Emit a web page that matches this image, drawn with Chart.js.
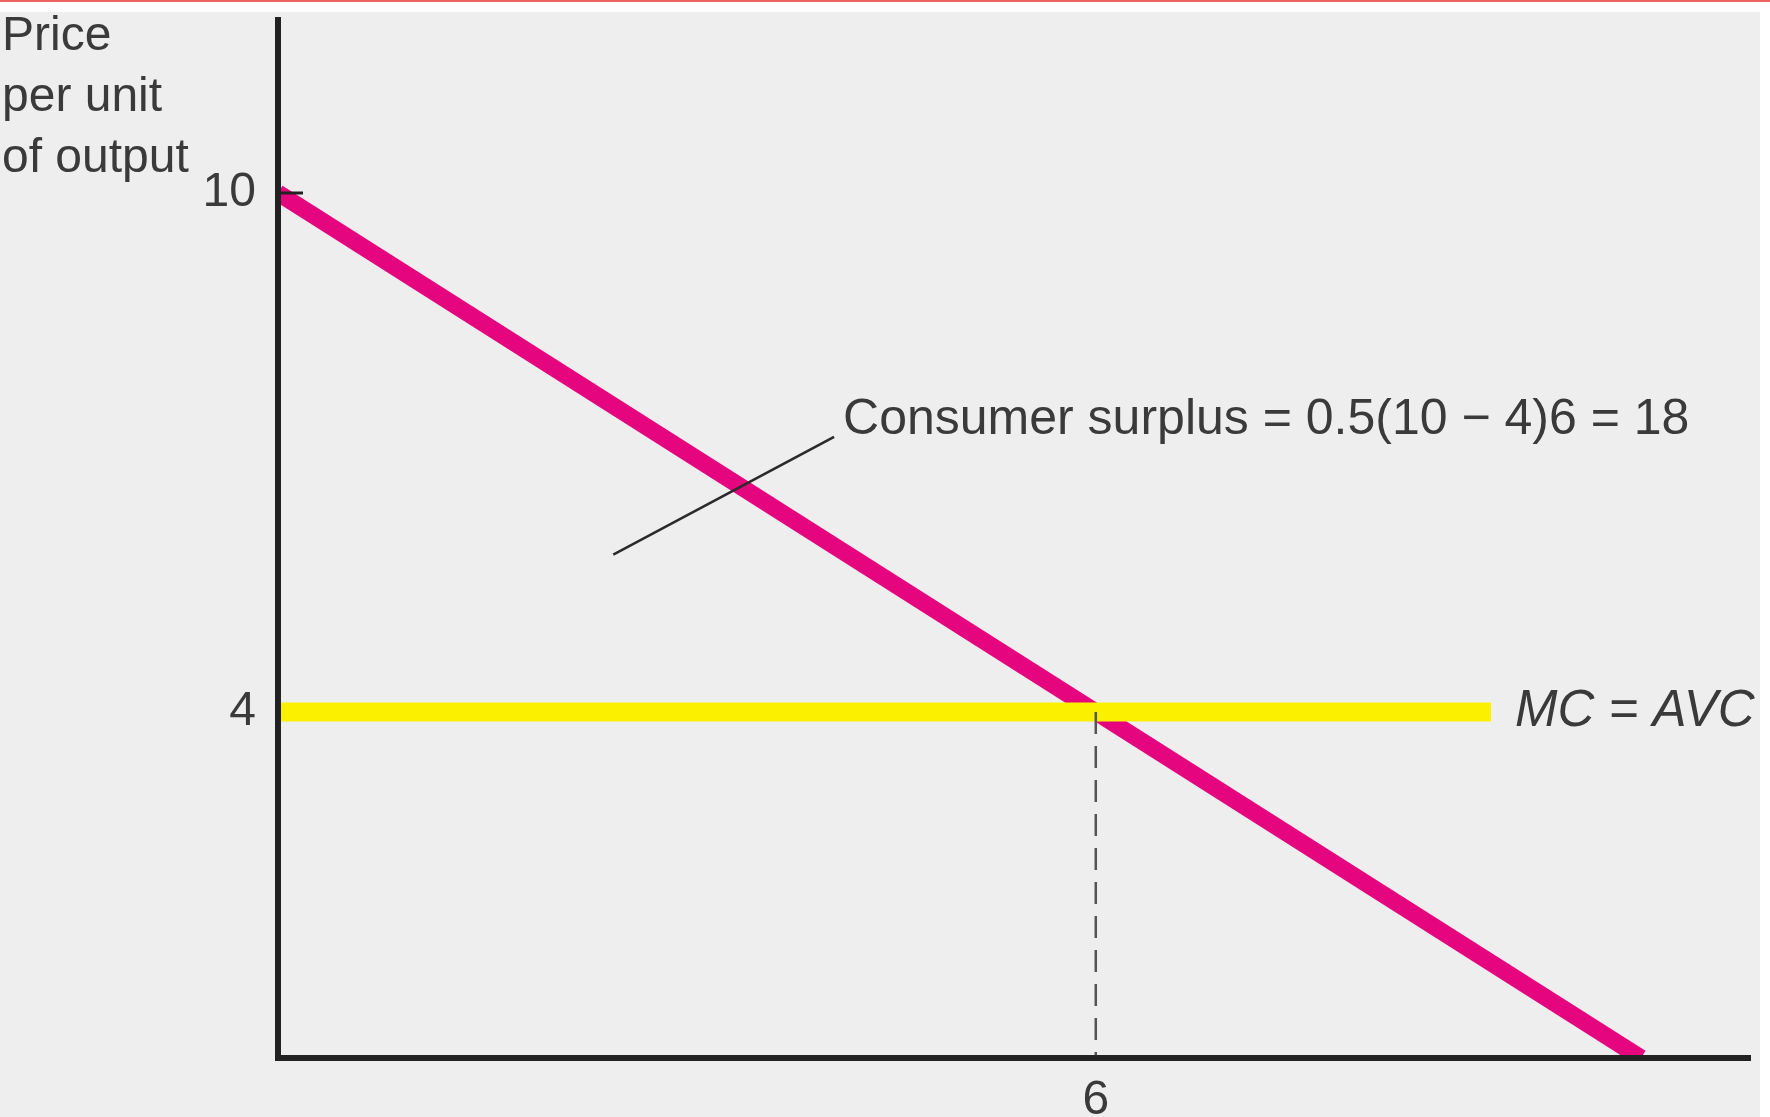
<!DOCTYPE html>
<html>
<head>
<meta charset="utf-8">
<title>Consumer surplus</title>
<script src="https://cdn.jsdelivr.net/npm/chart.js@4.4.1/dist/chart.umd.min.js"></script>
<style>
  html, body { margin: 0; padding: 0; background: #fff; }
  body { width: 1770px; height: 1117px; overflow: hidden; position: relative; }
  #topRule { position: absolute; left: 0; top: 0; width: 1770px; height: 2px; background: #f06262; }
  #panel { position: absolute; left: 0; top: 12px; width: 1760px; height: 1105px; background: #eeeeee; }
</style>
</head>
<body>
<div id="topRule"></div>
<div id="panel"><canvas id="surplusChart" width="1760" height="1105"></canvas></div>
<script>
// Demand curve P = 10 - Q
const demandQty = [0, 10];
const demandPrice = [10, 0];

// Marginal cost = average variable cost
const mcQty = [0, 8.9];
const mcPrice = [4, 4];

// Equilibrium point
const eqQty = 6;
const eqPrice = 4;

// Pointer from the surplus triangle to its label
const pointerQty = [2.46, 4.08];
const pointerPrice = [5.82, 7.18];

// Axis ticks
const yTicks = [4, 10];
const xTicks = [6];

const FONT = "'Liberation Sans', Arial, Helvetica, sans-serif";
const TEXT = "#3a3a3a";
const AXIS = "#222222";

const toPoints = (xs, ys) => xs.map((v, i) => ({ x: v, y: ys[i] }));

// Draws the free text and the tick mark at 10
const labelPlugin = {
    id: "figureLabels",
    afterDatasetsDraw(chart) {
        const { ctx, scales: { x, y } } = chart;
        ctx.save();
        ctx.strokeStyle = AXIS;
        ctx.lineWidth = 3;
        ctx.beginPath();
        ctx.moveTo(x.getPixelForValue(0), y.getPixelForValue(10));
        ctx.lineTo(x.getPixelForValue(0) + 25, y.getPixelForValue(10));
        ctx.stroke();
        ctx.restore();
    },
    afterDraw(chart) {
        const { ctx, scales: { x, y } } = chart;
        ctx.save();
        ctx.fillStyle = TEXT;

        // y axis title
        ctx.font = "48px " + FONT;
        ctx.textAlign = "left";
        ctx.textBaseline = "alphabetic";
        ["Price", "per unit", "of output"].forEach((line, i) => {
            ctx.fillText(line, 2, 38 + i * 61);
        });

        // consumer surplus label at the end of the pointer
        ctx.font = "50px " + FONT;
        const px = x.getPixelForValue(pointerQty[1]);
        const py = y.getPixelForValue(pointerPrice[1]);
        ctx.fillText("Consumer surplus = 0.5(10 \u2212 4)6 = 18", px + 9, py - 3);

        // MC = AVC label
        ctx.font = "italic 51px " + FONT;
        ctx.textBaseline = "middle";
        ctx.fillText("MC = AVC", x.getPixelForValue(mcQty[1]) + 24, y.getPixelForValue(mcPrice[1]));
        ctx.restore();
    }
};

// keep the plot area fixed: no extra room for label overhang
function fixPadding(scale) {
    scale.paddingTop = 0;
    scale.paddingBottom = 0;
    scale.paddingLeft = 0;
    scale.paddingRight = 0;
}

const ctx = document.getElementById("surplusChart").getContext("2d");

new Chart(ctx, {
    type: "scatter",
    data: {
        datasets: [
            {
                label: "Demand",
                data: toPoints(demandQty, demandPrice),
                showLine: true,
                borderColor: "#e5067f",
                borderWidth: 17,
                borderCapStyle: "butt",
                pointRadius: 0,
                clip: 0,
                order: 3
            },
            {
                label: "MC = AVC",
                data: toPoints(mcQty, mcPrice),
                showLine: true,
                borderColor: "#fbf000",
                borderWidth: 19,
                borderCapStyle: "butt",
                pointRadius: 0,
                clip: 0,
                order: 2
            },
            {
                label: "Quantity",
                data: toPoints([eqQty, eqQty], [eqPrice, 0]),
                showLine: true,
                borderColor: "#555555",
                borderWidth: 2.5,
                borderDash: [22, 12],
                pointRadius: 0,
                clip: 0,
                order: 1
            },
            {
                label: "Pointer",
                data: toPoints(pointerQty, pointerPrice),
                showLine: true,
                borderColor: "#2a2a2a",
                borderWidth: 2.5,
                pointRadius: 0,
                clip: 0,
                order: 0
            }
        ]
    },
    options: {
        responsive: false,
        animation: false,
        layout: { padding: { top: 8, right: 10, left: 0, bottom: 0 } },
        plugins: {
            legend: { display: false },
            tooltip: { enabled: false }
        },
        scales: {
            x: {
                type: "linear",
                min: 0,
                max: 10.8,
                grid: { display: false, drawTicks: false },
                border: { display: true, color: AXIS, width: 6, z: 1 },
                afterBuildTicks: (scale) => { scale.ticks = xTicks.map(v => ({ value: v })); },
                afterFit: (scale) => { scale.height = 59; fixPadding(scale); },
                ticks: {
                    font: { family: FONT, size: 48 },
                    color: TEXT,
                    padding: 14,
                    maxRotation: 0,
                    autoSkip: false
                }
            },
            y: {
                type: "linear",
                min: 0,
                max: 12,
                grid: { display: false, drawTicks: false },
                border: { display: true, color: AXIS, width: 6, z: 1 },
                afterBuildTicks: (scale) => { scale.ticks = yTicks.map(v => ({ value: v })); },
                afterFit: (scale) => { scale.width = 278; fixPadding(scale); },
                ticks: {
                    font: { family: FONT, size: 48 },
                    color: TEXT,
                    padding: 22,
                    autoSkip: false
                }
            }
        }
    },
    plugins: [labelPlugin]
});
</script>
</body>
</html>
